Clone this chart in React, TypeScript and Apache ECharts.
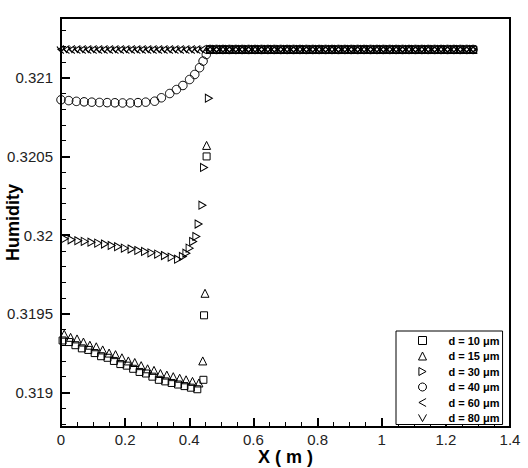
import React, { useEffect, useRef } from "react";
import * as echarts from "echarts";

// ---------- data ----------
const seriesNames = ["d = 10 μm", "d = 15 μm", "d = 30 μm", "d = 40 μm", "d = 60 μm", "d = 80 μm"];
const yTickLabels = ["0.319", "0.3195", "0.32", "0.3205", "0.321"];
const yTickValues = [0.319, 0.3195, 0.32, 0.3205, 0.321];

// common outlet plateau (all sizes)
const tailX = [0.465, 0.485, 0.505, 0.525, 0.545, 0.565, 0.585, 0.605, 0.625, 0.645, 0.665, 0.685, 0.705, 0.725,
  0.745, 0.765, 0.785, 0.805, 0.825, 0.845, 0.865, 0.885, 0.905, 0.925, 0.945, 0.965, 0.985, 1.005, 1.025, 1.045,
  1.065, 1.085, 1.105, 1.125, 1.145, 1.165, 1.185, 1.205, 1.225, 1.245, 1.265, 1.285];
const tailY = [0.32118, 0.32118, 0.32118, 0.32118, 0.32118, 0.32118, 0.32118, 0.32118, 0.32118, 0.32118, 0.32118,
  0.32118, 0.32118, 0.32118, 0.32118, 0.32118, 0.32118, 0.32118, 0.32118, 0.32118, 0.32118, 0.32118, 0.32118,
  0.32118, 0.32118, 0.32118, 0.32118, 0.32118, 0.32118, 0.32118, 0.32118, 0.32118, 0.32118, 0.32118, 0.32118,
  0.32118, 0.32118, 0.32118, 0.32118, 0.32118, 0.32118, 0.32118];

const d10X = [0.005, 0.025, 0.045, 0.065, 0.085, 0.105, 0.125, 0.145, 0.165, 0.185, 0.205, 0.225, 0.245, 0.265,
  0.285, 0.305, 0.325, 0.345, 0.365, 0.385, 0.405, 0.425, 0.444, 0.446, 0.454];
const d10Y = [0.31933, 0.31932, 0.3193, 0.31928, 0.31927, 0.31925, 0.31923, 0.31922, 0.3192, 0.31918, 0.31917,
  0.31915, 0.31913, 0.31912, 0.3191, 0.31908, 0.31907, 0.31906, 0.31905, 0.31904, 0.31903, 0.31902, 0.31908,
  0.31949, 0.3205];

const d15X = [0.01, 0.03, 0.05, 0.07, 0.09, 0.11, 0.13, 0.15, 0.17, 0.19, 0.21, 0.23, 0.25, 0.27, 0.29, 0.31,
  0.33, 0.35, 0.37, 0.39, 0.41, 0.43, 0.442, 0.449, 0.454];
const d15Y = [0.31937, 0.31935, 0.31934, 0.31932, 0.3193, 0.31929, 0.31927, 0.31925, 0.31924, 0.31922, 0.3192,
  0.31919, 0.31917, 0.31915, 0.31914, 0.31912, 0.31911, 0.3191, 0.31909, 0.31908, 0.31907, 0.31906, 0.3192,
  0.31963, 0.32057];

const d30X = [0.012, 0.033, 0.054, 0.074, 0.095, 0.116, 0.137, 0.158, 0.178, 0.199, 0.22, 0.241, 0.262, 0.282,
  0.303, 0.324, 0.345, 0.365, 0.38, 0.391, 0.401, 0.412, 0.422, 0.429, 0.441, 0.446, 0.461];
const d30Y = [0.319977, 0.31997, 0.319964, 0.31996, 0.319955, 0.319949, 0.319943, 0.319934, 0.319926, 0.319917,
  0.319911, 0.319902, 0.319896, 0.319887, 0.319879, 0.31987, 0.31986, 0.319847, 0.319864, 0.319885, 0.319917,
  0.319959, 0.319991, 0.32007, 0.32019, 0.32043, 0.32087];

const d40X = [0.0, 0.024, 0.048, 0.072, 0.096, 0.12, 0.144, 0.168, 0.192, 0.216, 0.24, 0.264, 0.292, 0.313, 0.339,
  0.36, 0.38, 0.401, 0.417, 0.432, 0.443, 0.453];
const d40Y = [0.32086, 0.320855, 0.32085, 0.320847, 0.320845, 0.320843, 0.320842, 0.320841, 0.32084, 0.32084,
  0.320842, 0.320845, 0.320851, 0.320873, 0.3209, 0.320925, 0.320951, 0.320989, 0.321021, 0.321064, 0.321106,
  0.321148];

const d60X = [0, 0.017, 0.034, 0.051, 0.068, 0.085, 0.102, 0.119, 0.136, 0.153, 0.17, 0.187, 0.204, 0.221, 0.238,
  0.255, 0.272, 0.289, 0.306, 0.323, 0.34, 0.357, 0.374, 0.391, 0.408, 0.425, 0.442];
const d60Y = [0.32118, 0.32118, 0.32118, 0.32118, 0.32118, 0.32118, 0.32118, 0.32118, 0.32118, 0.32118, 0.32118,
  0.32118, 0.32118, 0.32118, 0.32118, 0.32118, 0.32118, 0.32118, 0.32118, 0.32118, 0.32118, 0.32118, 0.32118,
  0.32118, 0.32118, 0.32118, 0.32118];

const d80X = [0, 0.017, 0.034, 0.051, 0.068, 0.085, 0.102, 0.119, 0.136, 0.153, 0.17, 0.187, 0.204, 0.221, 0.238,
  0.255, 0.272, 0.289, 0.306, 0.323, 0.34, 0.357, 0.374, 0.391, 0.408, 0.425, 0.442];
const d80Y = [0.32118, 0.32118, 0.32118, 0.32118, 0.32118, 0.32118, 0.32118, 0.32118, 0.32118, 0.32118, 0.32118,
  0.32118, 0.32118, 0.32118, 0.32118, 0.32118, 0.32118, 0.32118, 0.32118, 0.32118, 0.32118, 0.32118, 0.32118,
  0.32118, 0.32118, 0.32118, 0.32118];

const FONT = "'Liberation Sans', Arial, Helvetica, sans-serif";

export default function App() {
  const ref = useRef<HTMLDivElement>(null);
  useEffect(() => {
    if (!ref.current) return;
    const chart = echarts.init(ref.current, null, { renderer: "svg" });
    const pts = (xs: number[], ys: number[]) =>
      xs.map((x, i) => [x, ys[i]]).concat(tailX.map((x, i) => [x, tailY[i]]));
    const symbolDefs: any[] = [
      { symbol: "rect", size: 7 },
      { symbol: "triangle", size: 8 },
      { symbol: "path://M0,0 L9,5 L0,10 Z", size: [7, 8] },
      { symbol: "circle", size: 8.5 },
      { symbol: "path://M9,0 L0,5 L9,10", size: [6, 8] },
      { symbol: "path://M0,0 L5,9 L10,0", size: [8, 6] },
    ];
    const dataSets = [pts(d10X, d10Y), pts(d15X, d15Y), pts(d30X, d30Y), pts(d40X, d40Y), pts(d60X, d60Y), pts(d80X, d80Y)];
    const series = seriesNames.map((name, i) => ({
      type: "scatter",
      name,
      data: dataSets[i],
      symbol: symbolDefs[i].symbol,
      symbolSize: symbolDefs[i].size,
      itemStyle: { color: "rgba(0,0,0,0)", borderColor: "#000", borderWidth: 1, opacity: 1 },
      emphasis: { disabled: true },
      clip: false,
    }));
    chart.setOption({
      animation: false,
      backgroundColor: "#fff",
      grid: {
        left: 61, right: 18, top: 18, bottom: 41,
        containLabel: false, outerBoundsMode: "none",
        show: true, borderColor: "#000", borderWidth: 2, backgroundColor: "transparent",
      },
      legend: {
        orient: "vertical",
        left: 396,
        top: 331,
        padding: [4, 3, 1, 22],
        itemWidth: 8,
        itemHeight: 8,
        itemGap: 4.5,
        borderColor: "#000",
        borderWidth: 1,
        backgroundColor: "#fff",
        borderRadius: 0,
        itemStyle: { color: "rgba(0,0,0,0)", borderColor: "#000", borderWidth: 1 },
        textStyle: { fontSize: 11, fontWeight: "bold", fontFamily: FONT, color: "#000", padding: [0, 0, 0, 17] },
        data: seriesNames,
      },
      xAxis: {
        type: "value",
        min: 0,
        max: 1.4,
        interval: 0.2,
        name: "X ( m )",
        nameLocation: "middle",
        nameGap: 21,
        nameMoveOverlap: false,
        nameTextStyle: { fontSize: 18, fontWeight: "bold", fontFamily: FONT, color: "#000", verticalAlign: "top" },
        axisLine: { show: true, lineStyle: { color: "#000", width: 2 } },
        axisTick: { show: true, inside: true, length: 9, lineStyle: { color: "#000", width: 2 } },
        minorTick: { show: true, splitNumber: 4, length: 5, lineStyle: { color: "#000", width: 1 } },
        splitLine: { show: false },
        axisLabel: { fontSize: 15, color: "#222", fontFamily: FONT, margin: 5 },
      },
      yAxis: {
        type: "value",
        min: 0.31878,
        max: 0.32138,
        splitNumber: 5,
        name: "Humidity",
        nameLocation: "middle",
        nameGap: 39,
        nameMoveOverlap: false,
        nameTextStyle: { fontSize: 18, fontWeight: "bold", fontFamily: FONT, color: "#000" },
        axisLine: { show: true, lineStyle: { color: "#000", width: 2 } },
        axisTick: { show: true, inside: true, length: 9, lineStyle: { color: "#000", width: 2 } },
        minorTick: { show: true, splitNumber: 5, length: 5, lineStyle: { color: "#000", width: 1 } },
        splitLine: { show: false },
        axisLabel: {
          fontSize: 15,
          color: "#222",
          fontFamily: FONT,
          margin: 8,
          formatter: (v: number) => {
            const k = yTickValues.findIndex((t) => Math.abs(t - v) < 1e-7);
            return k >= 0 ? yTickLabels[k] : "";
          },
        },
      },
      series,
    });
    return () => chart.dispose();
  }, []);
  return <div ref={ref} style={{ position: "fixed", left: 0, top: 0, width: 528, height: 468 }} />;
}
